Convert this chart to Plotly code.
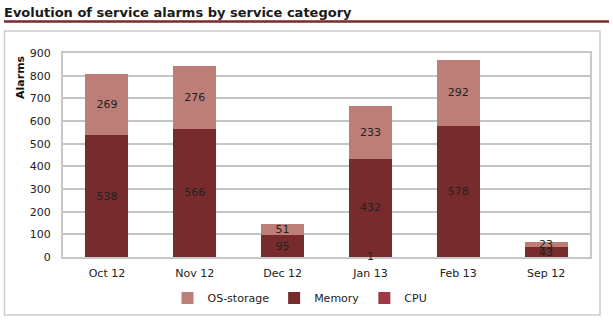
import plotly.graph_objects as go

categories = ["Oct 12", "Nov 12", "Dec 12", "Jan 13", "Feb 13", "Sep 12"]
cpu = [0, 0, 0, 1, 0, 0]
memory = [538, 566, 95, 432, 578, 43]
os_storage = [269, 276, 51, 233, 292, 23]
y_ticks = [0, 100, 200, 300, 400, 500, 600, 700, 800, 900]

W, H = 613, 328
L, R, T, B = 63, 23, 53, 71
pw, ph = W - L - R, H - T - B

def px(x):
    return (x - L) / pw

def py(y):
    return (H - B - y) / ph

def labels(vals):
    return [str(v) if v > 0 else "" for v in vals]

fig = go.Figure()
fig.add_trace(go.Bar(name="CPU", x=categories, y=cpu, marker_color="#a13849"))
fig.add_trace(go.Bar(name="Memory", x=categories, y=memory, marker_color="#772b2c",
                     text=labels(memory), textposition="inside", insidetextanchor="middle"))
fig.add_trace(go.Bar(name="OS-storage", x=categories, y=os_storage, marker_color="#bd7e78",
                     text=labels(os_storage), textposition="inside", insidetextanchor="middle"))
fig.update_traces(marker_line_width=0,
                  textfont=dict(family="DejaVu Sans", size=11, color="#222222"),
                  textangle=0)

# CPU labels (small segments: text overflows the bar)
for c, v in zip(categories, cpu):
    if v > 0:
        fig.add_annotation(x=c, y=v / 2, text=str(v), showarrow=False,
                           xanchor="center", yanchor="middle",
                           font=dict(family="DejaVu Sans", size=11, color="#222222"))

fig.update_layout(
    width=W, height=H,
    margin=dict(l=L, r=R, t=T, b=B),
    paper_bgcolor="white", plot_bgcolor="white",
    barmode="stack", bargap=0.51,
    font=dict(family="DejaVu Sans", size=11, color="#222222"),
    uniformtext=dict(minsize=11, mode="show"),
    title=dict(text="<b>Evolution of service alarms by service category</b>",
               x=4 / W, xanchor="left", y=1 - 12 / H, yanchor="middle",
               font=dict(family="DejaVu Sans", size=13, color="#1a1a1a")),
    xaxis=dict(showgrid=False, showline=True, linecolor="#c8c8c8", linewidth=2,
               mirror=True, ticks="", ticklabelstandoff=5, tickfont=dict(size=11)),
    yaxis=dict(range=[0, 900], tickvals=y_ticks, showgrid=True, gridcolor="#c4c4c4",
               gridwidth=1.5, showline=True, linecolor="#c8c8c8", linewidth=2,
               mirror=True, ticks="", ticklabelstandoff=8, zeroline=False,
               tickfont=dict(size=11)),
    legend=dict(orientation="h", traceorder="reversed", x=px(300), xanchor="center",
                y=py(298), yanchor="middle", font=dict(size=11),
                itemwidth=30, bgcolor="rgba(0,0,0,0)"),
    showlegend=True,
)

# y-axis title placed near the top
fig.add_annotation(text="<b>Alarms</b>", textangle=-90, xref="paper", yref="paper",
                   x=px(20), y=py(77), showarrow=False, xanchor="center", yanchor="middle",
                   font=dict(family="DejaVu Sans", size=11, color="#111111"))

# header underline
fig.add_shape(type="line", xref="paper", yref="paper", x0=px(4), x1=px(609),
              y0=py(21.5), y1=py(21.5), line=dict(color="#7a2a2c", width=2.5))
# outer frame
fig.add_shape(type="rect", xref="paper", yref="paper", x0=px(4.5), x1=px(600),
              y0=py(315), y1=py(31), line=dict(color="#cccccc", width=1.5),
              fillcolor="rgba(0,0,0,0)", layer="below")

fig.write_html("out.html")
